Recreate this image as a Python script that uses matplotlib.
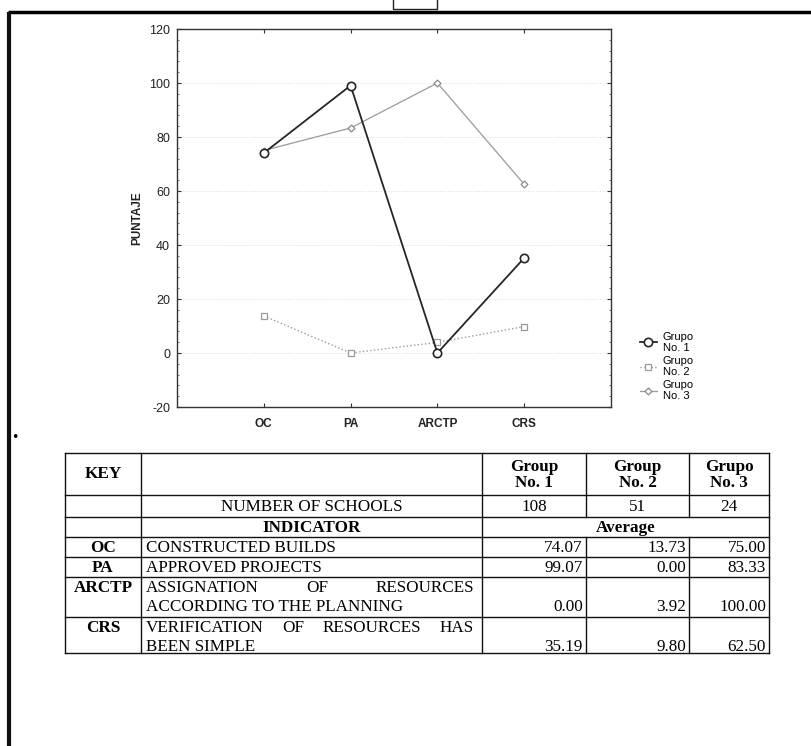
import matplotlib
matplotlib.use('Agg')
import matplotlib.pyplot as plt
from matplotlib.ticker import MultipleLocator

# indicator keys and group averages
keys = ['OC', 'PA', 'ARCTP', 'CRS']
descriptions = [['CONSTRUCTED BUILDS'],
                ['APPROVED PROJECTS'],
                ['ASSIGNATION OF RESOURCES', 'ACCORDING TO THE PLANNING'],
                ['VERIFICATION OF RESOURCES HAS', 'BEEN SIMPLE']]
group_1 = [74.07, 99.07, 0.00, 35.19]
group_2 = [13.73, 0.00, 3.92, 9.80]
group_3 = [75.00, 83.33, 100.00, 62.50]
schools = [108, 51, 24]
legend_labels = ['Grupo\nNo. 1', 'Grupo\nNo. 2', 'Grupo\nNo. 3']
table_heads = ['Group\nNo. 1', 'Group\nNo. 2', 'Grupo\nNo. 3']

plt.rcParams['axes.unicode_minus'] = False

W, H = 812, 746
fig = plt.figure(figsize=(W / 100, H / 100), dpi=100)

SANS = 'Liberation Sans'
SERIF = 'Liberation Serif'

# ---------------------------------------------------------------- line chart
ax = fig.add_axes([177 / W, 1 - 407 / H, 434 / W, 378 / H])
x = range(len(keys))
ax.plot(x, group_1, '-o', color='#262626', lw=1.3, ms=6, mfc='white', mec='#262626', mew=1.2,
        label=legend_labels[0], zorder=4)
ax.plot(x, group_2, ':s', color='#9a9a9a', lw=1.0, ms=5, mfc='white', mec='#9a9a9a', mew=0.9,
        label=legend_labels[1], zorder=3)
ax.plot(x, group_3, '-D', color='#9a9a9a', lw=0.9, ms=3.5, mfc='white', mec='#8a8a8a', mew=0.9,
        label=legend_labels[2], zorder=3)

ax.set_xlim(-1, 4)
ax.set_ylim(-20, 120)
ax.set_xticks(list(x))
ax.set_xticklabels(keys, fontfamily=SANS, fontweight='bold', fontsize=8.5, color='#222222')
ax.yaxis.set_major_locator(MultipleLocator(20))
ax.yaxis.set_minor_locator(MultipleLocator(4))
for lab in ax.get_yticklabels():
    lab.set_fontfamily(SANS)
    lab.set_fontsize(9)
    lab.set_color('#222222')
ax.tick_params(axis='both', which='major', direction='in', length=3, width=0.8,
               top=True, right=True, pad=5, color='#333333')
ax.tick_params(axis='y', which='minor', direction='in', length=1.5, width=0.6, right=True, left=True,
               color='#555555')
ax.tick_params(axis='x', pad=8)
ax.set_ylabel('PUNTAJE', fontfamily=SANS, fontweight='bold', fontsize=8.5, color='#222222', labelpad=4)
ax.grid(axis='y', which='major', linestyle=':', color='#dddddd', lw=0.7)
for s in ax.spines.values():
    s.set_linewidth(1.0)
    s.set_color('#333333')

fig.legend(loc='upper left', bbox_to_anchor=(634 / W, 1 - 326 / H), bbox_transform=fig.transFigure,
           frameon=False, handlelength=1.6, handletextpad=0.5, labelspacing=0.22,
           prop={'family': SANS, 'size': 8}, borderpad=0)

# ---------------------------------------------------------------- page frame and table
page = fig.add_axes([0, 0, 1, 1], zorder=-1)
page.set_xlim(0, W)
page.set_ylim(H, 0)
page.axis('off')

page.plot([8, W], [12, 12], color='black', lw=2.5, solid_capstyle='butt')
page.plot([9, 9], [12, H], color='#111111', lw=3, solid_capstyle='butt')
page.plot([393, 393, 437, 437], [0, 9, 9, 0], color='#222222', lw=1.0)
page.text(15, 438, '\u2022', fontsize=9, ha='center', va='center', color='black')

col = [65, 141, 482, 586, 689, 769]
row = [453, 495, 517, 537, 557, 577, 617, 653]
lw = 1.0
fs = 12.3
txt = dict(fontfamily=SERIF, fontsize=fs, color='black')
bold = dict(fontfamily=SERIF, fontsize=fs, color='black', fontweight='bold')

# horizontal rules
for y in row:
    page.plot([col[0], col[-1]], [y, y], color='#111111', lw=lw)
# vertical rules; the group dividers skip the "Average" row
for c in (col[0], col[1], col[2], col[-1]):
    page.plot([c, c], [row[0], row[-1]], color='#111111', lw=lw)
for c in (col[3], col[4]):
    page.plot([c, c], [row[0], row[2]], color='#111111', lw=lw)
    page.plot([c, c], [row[3], row[-1]], color='#111111', lw=lw)

# header row
page.text((col[0] + col[1]) / 2, (row[0] + row[1]) / 2, 'KEY', ha='center', va='center', **bold)
for i, h in enumerate(table_heads):
    page.text((col[2 + i] + col[3 + i]) / 2, (row[0] + row[1]) / 2 + 1, h, ha='center', va='center',
              linespacing=1.05, **bold)

# number of schools
page.text((col[1] + col[2]) / 2, (row[1] + row[2]) / 2 + 1, 'NUMBER OF SCHOOLS', ha='center', va='center', **txt)
for i, n in enumerate(schools):
    page.text((col[2 + i] + col[3 + i]) / 2, (row[1] + row[2]) / 2 + 1, str(n), ha='center', va='center', **txt)

page.text((col[1] + col[2]) / 2, (row[2] + row[3]) / 2 + 1, 'INDICATOR', ha='center', va='center', **bold)
page.text((col[2] + col[5]) / 2, (row[2] + row[3]) / 2 + 1, 'Average', ha='center', va='center', **bold)

fig.canvas.draw()
renderer = fig.canvas.get_renderer()
inv = page.transData.inverted()


def text_width(s, **kw):
    t = page.text(0, 0, s, **kw)
    bb = t.get_window_extent(renderer)
    t.remove()
    a = inv.transform((bb.x0, bb.y0))
    b = inv.transform((bb.x1, bb.y1))
    return b[0] - a[0]


def justified(words_line, x0, x1, y):
    words = words_line.split()
    widths = [text_width(w, **txt) for w in words]
    gap = (x1 - x0 - sum(widths)) / (len(words) - 1)
    xp = x0
    for w, wd in zip(words, widths):
        page.text(xp, y, w, ha='left', va='center', **txt)
        xp += wd + gap


line_h = 19
pad = 5
groups = [group_1, group_2, group_3]
for k in range(len(keys)):
    top, bot = row[3 + k], row[4 + k]
    lines = descriptions[k]
    first_y = top + 10 + 1
    page.text((col[0] + col[1]) / 2, first_y, keys[k], ha='center', va='center', **bold)
    for j, ln in enumerate(lines):
        y = first_y + j * line_h
        if j < len(lines) - 1:
            justified(ln, col[1] + pad, col[2] - 8, y)
        else:
            page.text(col[1] + pad, y, ln, ha='left', va='center', **txt)
    last_y = first_y + (len(lines) - 1) * line_h
    for i, g in enumerate(groups):
        page.text(col[3 + i] - 3, last_y, f'{g[k]:.2f}', ha='right', va='center', **txt)

fig.savefig('out.png', dpi=100)
